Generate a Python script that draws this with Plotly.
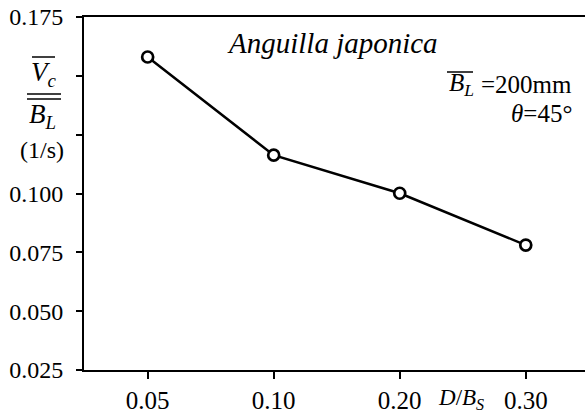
import plotly.graph_objects as go

categories = ["0.05", "0.10", "0.20", "0.30"]
values = [0.158, 0.1163, 0.1001, 0.0781]
ytick_vals = [0.025, 0.050, 0.075, 0.100, 0.125, 0.150, 0.175]
ytick_text = ["0.025", "0.050", "0.075", "0.100", "", "", "0.175"]

W, H = 585, 418
L, R, T, B = 84, 0, 17, 48
PW, PH = W - L - R, H - T - B

def px(x):
    return (x - L) / PW

def py(y):
    return (H - B - y) / PH

FONT = "Liberation Serif, Times New Roman, serif"

fig = go.Figure()
fig.add_trace(go.Scatter(
    x=categories, y=values, mode="lines+markers",
    line=dict(color="black", width=2.5),
    marker=dict(symbol="circle", size=11, color="white",
                line=dict(color="black", width=2.7)),
    showlegend=False,
))

ann = []
def text(x, y, s, size=21, xanchor="center"):
    ann.append(dict(x=px(x), y=py(y), xref="paper", yref="paper", text=s,
                    showarrow=False, xanchor=xanchor, yanchor="middle",
                    font=dict(family=FONT, size=size, color="black")))

text(332, 43, "<i>Anguilla japonica</i>", size=29)
text(447, 85, "<i>B</i><sub><i>L</i></sub>", size=25, xanchor="left")
text(574, 85, "=200mm", size=25, xanchor="right")
text(574, 114, "<i>θ</i>=45°", size=25, xanchor="right")
text(461, 399, "<i>D</i>/<i>B</i><sub><i>S</i></sub>", size=23)
text(44, 74, "<i>V</i><sub><i>c</i></sub>", size=27)
text(42, 116, "<i>B</i><sub><i>L</i></sub>", size=27)
text(42, 150, "(1/s)", size=24)

shapes = []
def hline(x0, x1, y, w=1.5):
    shapes.append(dict(type="line", xref="paper", yref="paper",
                       x0=px(x0), x1=px(x1), y0=py(y), y1=py(y),
                       line=dict(color="black", width=w)))

hline(32, 55, 57)
hline(27, 61, 94)
hline(27, 61, 99)
hline(447, 473, 72)

fig.update_layout(
    width=W, height=H,
    margin=dict(l=L, r=R, t=T, b=B),
    paper_bgcolor="white", plot_bgcolor="white",
    font=dict(family=FONT, size=25, color="black"),
    annotations=ann, shapes=shapes,
    xaxis=dict(type="category", range=[-0.505, 3.47],
               showline=True, linecolor="black", linewidth=2, mirror=True,
               ticks="outside", ticklen=7, tickwidth=2, tickcolor="black",
               showgrid=False, zeroline=False,
               tickfont=dict(family=FONT, size=25)),
    yaxis=dict(range=[0.025, 0.175], tickvals=ytick_vals, ticktext=ytick_text,
               showline=True, linecolor="black", linewidth=2,
               ticks="outside", ticklen=6, tickwidth=2, tickcolor="black",
               ticklabelstandoff=8,
               showgrid=False, zeroline=False,
               tickfont=dict(family=FONT, size=24)),
)

fig.write_html("out.html", config={"displayModeBar": False},
               post_script="document.body.style.margin='0';")
